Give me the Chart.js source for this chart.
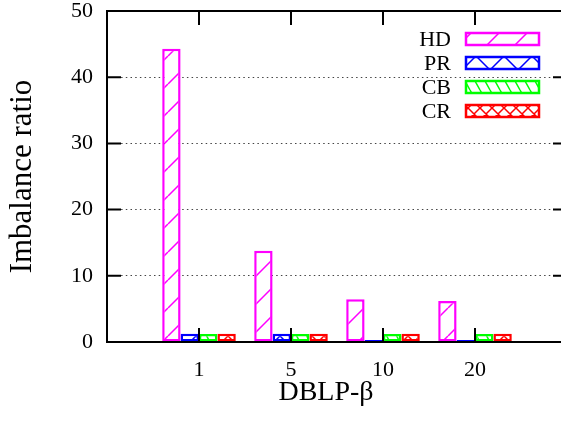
<!DOCTYPE html>
<html>
<head>
<meta charset="utf-8">
<script src="https://cdn.jsdelivr.net/npm/chart.js@4.4.1/dist/chart.umd.min.js"></script>
<style>
  html, body { margin: 0; padding: 0; background: #fff; overflow: hidden; }
  #chart { display: block; }
</style>
</head>
<body>
<canvas id="chart" width="575" height="423"></canvas>
<script>
// data
const categories = ['1', '5', '10', '20'];
const seriesNames = ['HD', 'PR', 'CB', 'CR'];
const hdValues = [44.3, 13.8, 6.45, 6.2];
const prValues = [1.25, 1.25, 0, 0];
const cbValues = [1.2, 1.2, 1.2, 1.2];
const crValues = [1.25, 1.25, 1.25, 1.25];
const yTicks = [0, 10, 20, 30, 40, 50];

const FONT = '"Liberation Serif", "DejaVu Serif", serif';
Chart.defaults.font.family = FONT;

// empty slot on each side so the first/last group sits one category in from the frame
const xLabels = [''].concat(categories, ['']);
function pad(values) {
    return [null].concat(values, [null]);
}

function makeHatch(color, w, h, kind) {
    const c = document.createElement('canvas');
    c.width = w;
    c.height = h;
    const g = c.getContext('2d');
    g.fillStyle = '#fff';
    g.fillRect(0, 0, w, h);
    g.strokeStyle = color;
    g.lineWidth = 1.5;
    g.beginPath();
    if (kind === 'fwd' || kind === 'cross') {
        // "/"
        g.moveTo(0, h); g.lineTo(w, 0);
        g.moveTo(-w, h); g.lineTo(0, 0);
        g.moveTo(w, h); g.lineTo(2 * w, 0);
    }
    if (kind === 'back' || kind === 'cross') {
        // "\"
        g.moveTo(0, 0); g.lineTo(w, h);
        g.moveTo(-w, 0); g.lineTo(0, h);
        g.moveTo(w, 0); g.lineTo(2 * w, h);
    }
    g.stroke();
    return g.createPattern(c, 'repeat');
}

const colors = ['#ff00ff', '#0000ff', '#00ff00', '#ff0000'];
const fills = [
    makeHatch(colors[0], 28, 28, 'fwd'),
    makeHatch(colors[1], 28, 28, 'cross'),
    makeHatch(colors[2], 10, 18, 'back'),
    makeHatch(colors[3], 12, 12, 'cross')
];
const allValues = [hdValues, prValues, cbValues, crValues];

// gnuplot-like frame, inward ticks, legend and x title
const framePlugin = {
    id: 'frame',
    afterDraw(chart) {
        const ctx = chart.ctx;
        const a = chart.chartArea;
        const xs = chart.scales.x;
        const ys = chart.scales.y;
        const tl = 14;
        ctx.save();
        ctx.strokeStyle = '#000';
        ctx.lineWidth = 2;
        ctx.strokeRect(a.left, a.top, a.right - a.left, a.bottom - a.top);
        ctx.beginPath();
        yTicks.forEach(v => {
            const y = ys.getPixelForValue(v);
            ctx.moveTo(a.left, y); ctx.lineTo(a.left + tl, y);
            ctx.moveTo(a.right, y); ctx.lineTo(a.right - tl, y);
        });
        categories.forEach((c, i) => {
            const x = xs.getPixelForValue(i + 1);
            ctx.moveTo(x, a.bottom); ctx.lineTo(x, a.bottom - tl);
            ctx.moveTo(x, a.top); ctx.lineTo(x, a.top + tl);
        });
        ctx.stroke();

        // legend
        ctx.font = '22px ' + FONT;
        ctx.fillStyle = '#000';
        ctx.textAlign = 'right';
        ctx.textBaseline = 'middle';
        chart.data.datasets.forEach((ds, i) => {
            const cy = a.top + 28 + i * 24;
            const bx = a.right - 102;
            ctx.fillText(ds.label, bx - 14, cy + 1);
            ctx.fillStyle = ds.backgroundColor;
            ctx.fillRect(bx, cy - 7, 75, 14);
            ctx.strokeStyle = ds.borderColor;
            ctx.lineWidth = 2.5;
            ctx.strokeRect(bx + 1, cy - 6, 73, 12);
            ctx.fillStyle = '#000';
        });

        // x title
        ctx.font = '28px ' + FONT;
        ctx.textAlign = 'center';
        ctx.textBaseline = 'alphabetic';
        ctx.fillText('DBLP-\u03b2', (a.left + a.right) / 2 - 11, 400);
        ctx.restore();
    }
};

new Chart(document.getElementById('chart'), {
    type: 'bar',
    data: {
        labels: xLabels,
        datasets: seriesNames.map((name, i) => ({
            label: name,
            data: pad(allValues[i]),
            backgroundColor: fills[i],
            borderColor: colors[i],
            borderWidth: 2.5,
            borderSkipped: false,
            minBarLength: i === 1 ? 2 : 0,
            categoryPercentage: 0.8,
            barPercentage: 1.0
        }))
    },
    options: {
        responsive: false,
        animation: false,
        layout: { padding: { top: 11, right: 8, left: 0, bottom: 0 } },
        plugins: {
            legend: { display: false },
            tooltip: { enabled: false }
        },
        scales: {
            x: {
                type: 'category',
                offset: false,
                grid: { display: false, drawTicks: false },
                border: { display: false },
                ticks: {
                    font: { family: FONT, size: 22 },
                    color: '#000',
                    padding: 15,
                    autoSkip: false,
                    maxRotation: 0
                },
                afterFit(scale) {
                    scale.height = 81;
                    scale.paddingLeft = 0;
                    scale.paddingRight = 0;
                }
            },
            y: {
                min: 0,
                max: 50,
                ticks: {
                    stepSize: 10,
                    font: { family: FONT, size: 22 },
                    color: '#000',
                    padding: 14
                },
                grid: {
                    drawTicks: false,
                    color: c => (c.tick && c.tick.value > 0 && c.tick.value < 50) ? '#444' : 'transparent',
                    lineWidth: 1
                },
                border: { display: false, dash: [1.5, 3.2] },
                title: {
                    display: true,
                    text: 'Imbalance ratio',
                    font: { family: FONT, size: 31 },
                    color: '#000',
                    padding: { top: 4, bottom: 0 }
                },
                afterFit(scale) {
                    scale.width = 107;
                    scale.paddingTop = 0;
                    scale.paddingBottom = 0;
                }
            }
        }
    },
    plugins: [framePlugin]
});
</script>
</body>
</html>
